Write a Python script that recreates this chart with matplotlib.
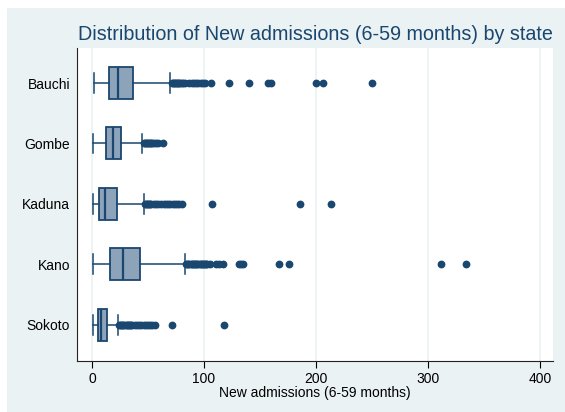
import matplotlib
matplotlib.use("Agg")
import matplotlib.pyplot as plt
from matplotlib.patches import Rectangle

states = ["Bauchi", "Gombe", "Kaduna", "Kano", "Sokoto"]
whislo = [2, 1, 1, 1, 1]
q1 = [15, 12.5, 6, 16, 5]
med = [23, 18.5, 12, 28, 8]
q3 = [37, 26, 22, 43, 13]
whishi = [70, 45, 46, 83, 23]
fliers = [
    [71, 72, 73, 74, 75, 76, 77, 78, 79, 80, 81, 83, 87, 89, 91, 93, 95, 97, 99,
     101, 106, 122, 140, 157, 160, 200, 206, 250],
    [46, 47, 48, 49, 50, 51, 52, 53, 54, 55, 57, 59, 63],
    [47, 48, 49, 50, 51, 52, 53, 55, 57, 59, 62, 64, 66, 68, 70, 72, 74, 76, 78,
     80, 107, 186, 213],
    [84, 85, 86, 87, 88, 89, 90, 91, 92, 93, 94, 95, 96, 97, 98, 99, 100, 101,
     102, 103, 105, 111, 113, 117, 131, 133, 135, 167, 176, 312, 334],
    [24, 25, 26, 27, 28, 29, 30, 31, 32, 33, 34, 35, 36, 38, 40, 42, 44, 46, 48,
     50, 52, 54, 56, 71, 118],
]
xticks = [0, 100, 200, 300, 400]

navy = "#1a476f"
boxfill = "#8da3ba"
bg = "#eaf2f3"

fig = plt.figure(figsize=(5.65, 4.12), dpi=100)
W, H = 565, 412
fig.patches.append(Rectangle((7 / W, 0), 1, (H - 8) / H, transform=fig.transFigure,
                             facecolor=bg, edgecolor="none", zorder=-10))
ax = fig.add_axes([77 / W, (H - 361) / H, (553 - 77) / W, (361 - 48) / H])
ax.set_facecolor("white")

stats = []
for i, s in enumerate(states):
    stats.append(dict(label=s, whislo=whislo[i], q1=q1[i], med=med[i], q3=q3[i],
                      whishi=whishi[i], fliers=fliers[i]))

positions = list(range(len(states)))
ax.bxp(stats, positions=positions, vert=False, widths=0.53, patch_artist=True,
       showfliers=True, capwidths=0.33,
       boxprops=dict(facecolor=boxfill, edgecolor=navy, linewidth=1.3),
       medianprops=dict(color=navy, linewidth=1.6),
       whiskerprops=dict(color=navy, linewidth=1.1),
       capprops=dict(color=navy, linewidth=1.1),
       flierprops=dict(marker="o", markerfacecolor=navy, markeredgecolor=navy,
                       markersize=4.6, linestyle="none"))

ax.set_ylim(4.6, -0.58)
ax.set_xlim(-13.4, 411.6)
ax.set_xticks(xticks)
ax.set_xticklabels([str(t) for t in xticks], fontsize=10, family="Liberation Sans")
ax.set_yticks(positions)
ax.set_yticklabels(states, fontsize=10, family="Liberation Sans")
ax.tick_params(axis="y", length=0, pad=5)
ax.tick_params(axis="x", length=5, width=0.8, pad=3)
for t in xticks:
    ax.axvline(t, color=bg, linewidth=1.2, zorder=0)
ax.spines["top"].set_visible(False)
ax.spines["right"].set_visible(False)
ax.spines["left"].set_color("#222222")
ax.spines["bottom"].set_color("#222222")
ax.set_xlabel("New admissions (6-59 months)", fontsize=10, family="Liberation Sans", labelpad=0)
fig.text(553 / W, (H - 34) / H, "Distribution of New admissions (6-59 months) by state",
         ha="right", va="center", fontsize=14.2, color=navy, family="Liberation Sans")

fig.savefig("out.png", dpi=100)
